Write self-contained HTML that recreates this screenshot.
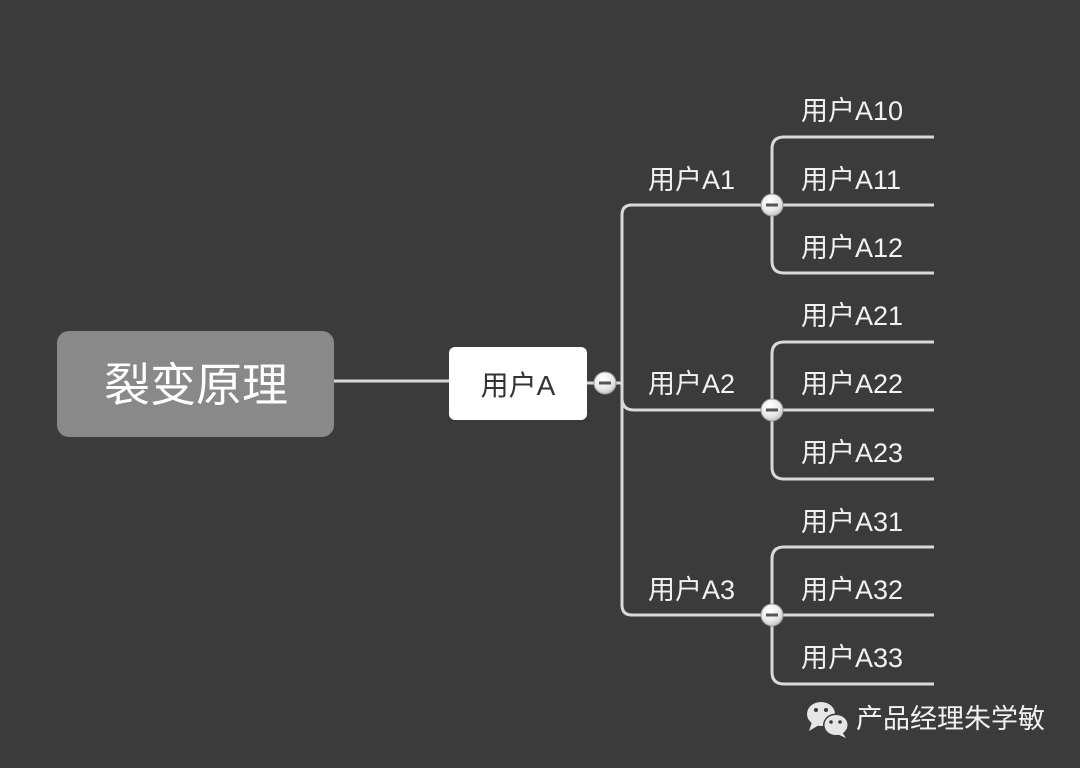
<!DOCTYPE html>
<html><head><meta charset="utf-8"><style>
html,body{margin:0;padding:0;background:#3b3b3b;}
svg{display:block;}
text{font-family:"Liberation Sans","Noto Sans CJK SC",sans-serif;}
</style></head><body>
<svg width="1080" height="768" viewBox="0 0 1080 768" xmlns="http://www.w3.org/2000/svg">
<defs>
<radialGradient id="cg" cx="0.4" cy="0.3" r="0.8">
<stop offset="0" stop-color="#ffffff"/>
<stop offset="0.6" stop-color="#e8e8e8"/>
<stop offset="1" stop-color="#b5b5b5"/>
</radialGradient>
</defs>
<rect width="1080" height="768" fill="#3b3b3b"/>
<!-- root -->
<rect x="57" y="331" width="277" height="106" rx="12" fill="#898989"/>
<text x="196" y="401" font-size="46" fill="#ffffff" text-anchor="middle">裂变原理</text>
<line x1="334" y1="381" x2="449" y2="381" stroke="#d9d9d9" stroke-width="3"/>
<!-- user A -->
<rect x="449" y="347" width="138" height="73" rx="6" fill="#ffffff"/>
<text x="518" y="395" font-size="28" fill="#333333" text-anchor="middle">用户A</text>
<g fill="none" stroke="#d9d9d9" stroke-width="3">
<line x1="587" y1="383" x2="622" y2="383"/>
<path d="M761,205 H632 Q622,205 622,215 V605 Q622,615 632,615 H761"/>
<path d="M622,398 Q622,410 634,410 H761"/>
<!-- group 1 -->
<path d="M934,137 H784 Q772,137 772,149 V261 Q772,273 784,273 H934"/>
<line x1="783" y1="205" x2="934" y2="205"/>
<!-- group 2 -->
<path d="M934,342 H784 Q772,342 772,354 V467 Q772,479 784,479 H934"/>
<line x1="783" y1="410" x2="934" y2="410"/>
<!-- group 3 -->
<path d="M934,547 H784 Q772,547 772,559 V672 Q772,684 784,684 H934"/>
<line x1="783" y1="615" x2="934" y2="615"/>
</g>
<!-- collapse circles -->
<g>
<circle cx="605" cy="383" r="11" fill="url(#cg)" stroke="#9a9a9a" stroke-width="1"/>
<rect x="599" y="381.5" width="12" height="3" fill="#555"/>
<circle cx="772" cy="205" r="11" fill="url(#cg)" stroke="#9a9a9a" stroke-width="1"/>
<rect x="766" y="203.5" width="12" height="3" fill="#555"/>
<circle cx="772" cy="410" r="11" fill="url(#cg)" stroke="#9a9a9a" stroke-width="1"/>
<rect x="766" y="408.5" width="12" height="3" fill="#555"/>
<circle cx="772" cy="615" r="11" fill="url(#cg)" stroke="#9a9a9a" stroke-width="1"/>
<rect x="766" y="613.5" width="12" height="3" fill="#555"/>
</g>
<!-- labels -->
<g font-size="27" fill="#f2f2f2">
<text x="648" y="189">用户A1</text>
<text x="648" y="393">用户A2</text>
<text x="648" y="599">用户A3</text>
<text x="801" y="120">用户A10</text>
<text x="801" y="189">用户A11</text>
<text x="801" y="257">用户A12</text>
<text x="801" y="325">用户A21</text>
<text x="801" y="393">用户A22</text>
<text x="801" y="462">用户A23</text>
<text x="801" y="531">用户A31</text>
<text x="801" y="599">用户A32</text>
<text x="801" y="667">用户A33</text>
</g>
<!-- watermark -->
<g>
<ellipse cx="821" cy="714" rx="14" ry="12" fill="#e6e6e6"/>
<path d="M812,722 L809,731 L819,725 Z" fill="#e6e6e6"/>
<circle cx="816" cy="710" r="2" fill="#3b3b3b"/>
<circle cx="826" cy="710" r="2" fill="#3b3b3b"/>
<ellipse cx="836" cy="725" rx="13" ry="11.5" fill="#3b3b3b"/>
<ellipse cx="836" cy="725" rx="11.5" ry="10" fill="#e6e6e6"/>
<path d="M842,732 L846,738 L837,734 Z" fill="#e6e6e6"/>
<circle cx="831" cy="722" r="1.8" fill="#3b3b3b"/>
<circle cx="840" cy="722" r="1.8" fill="#3b3b3b"/>
<text x="856" y="728" font-size="27" fill="#f2f2f2">产品经理朱学敏</text>
</g>
</svg>
</body></html>
